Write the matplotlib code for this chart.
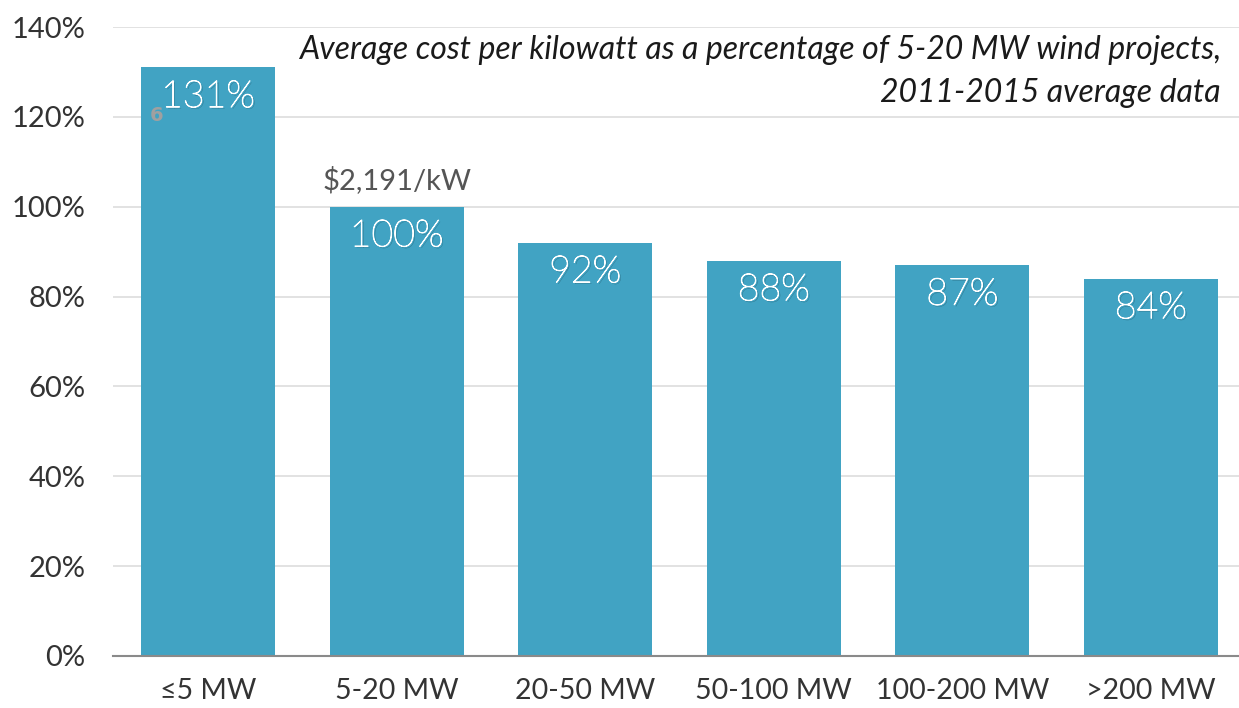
import matplotlib
matplotlib.use("Agg")
import matplotlib.pyplot as plt
import matplotlib.patheffects as pe

plt.rcParams['font.family'] = ['Lato', 'DejaVu Sans']

categories = ['≤5 MW', '5-20 MW', '20-50 MW', '50-100 MW', '100-200 MW', '>200 MW']
values = [131, 100, 92, 88, 87, 84]
yticks = [0, 20, 40, 60, 80, 100, 120, 140]

bar_color = '#41a3c3'

fig = plt.figure(figsize=(12.39, 7.08), dpi=100)
ax = fig.add_axes([113 / 1239, 1 - 656 / 708, 1 - 113 / 1239, (656 - 27) / 708])

x = range(len(categories))
ax.bar(x, values, width=0.71, color=bar_color, zorder=2)

# light label + thin stroke so it sits between hairline and regular
shadow = [pe.withSimplePatchShadow(offset=(1.2, -1.2), shadow_rgbFace='black', alpha=0.3),
          pe.Stroke(linewidth=0.7, foreground='white'), pe.Normal()]
for i, v in enumerate(values):
    ax.text(i, v - 6.6, f'{v}%', ha='center', va='center', color='white',
            fontsize=27, fontweight='light', path_effects=shadow, zorder=3)

# price note above the reference bar
ax.text(1, 106, '$2,191/kW', ha='center', va='center', color='#555555', fontsize=21)
# slide artefact
ax.text(-0.273, 120.2, '6', ha='center', va='center', color='#a0a0a0',
        fontsize=14, fontweight='heavy', family=['DejaVu Sans'], zorder=3)

ax.set_xlim(-0.504, 5.467)
ax.set_ylim(0, 140)
ax.set_yticks(yticks)
ax.set_yticklabels([f'{t}%' for t in yticks], fontsize=21, color='#333333')
ax.set_xticks(list(x))
ax.set_xticklabels(categories, fontsize=20.5, color='#333333')
ax.tick_params(length=0)
ax.tick_params(axis='y', pad=20)
ax.tick_params(axis='x', pad=16)

ax.yaxis.grid(True, color='#dddddd', linewidth=1.2, zorder=0)
ax.set_axisbelow(True)
for s in ['top', 'right', 'left']:
    ax.spines[s].set_visible(False)
ax.spines['bottom'].set_color('#8a8a8a')
ax.spines['bottom'].set_linewidth(1.5)

fig.text(1221 / 1239, 1 - 50 / 708, 'Average cost per kilowatt as a percentage of 5-20 MW wind projects,',
         ha='right', va='center', fontsize=23, style='italic', color='#1a1a1a')
fig.text(1221 / 1239, 1 - 93 / 708, '2011-2015 average data',
         ha='right', va='center', fontsize=23, style='italic', color='#1a1a1a')

fig.savefig('out.png', dpi=100)
